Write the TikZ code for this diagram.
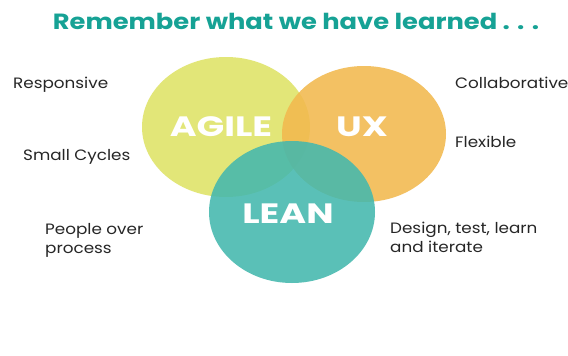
\documentclass[tikz,border=0pt]{standalone}
\usepackage{fontspec}
\setmainfont{Poppins}
\newfontfamily\traitfont[FakeStretch=1.12]{Poppins}
\newfontfamily\headfont[FakeStretch=1.17]{Poppins}
\newfontfamily\namefont[FakeStretch=1.3]{Poppins}
\begin{document}
\begin{tikzpicture}[x=1pt,y=-1pt,
  venn/.style={fill opacity=0.88},
  setname/.style={text=white, font=\namefont\bfseries\fontsize{28}{28}\selectfont, inner sep=0pt},
  trait/.style={text=black!85, font=\traitfont\fontsize{15}{19}\selectfont, inner sep=0pt, anchor=base west, align=left}]
  \useasboundingbox[fill=white] (0,0) rectangle (568,356);
  \definecolor{agilecol}{HTML}{E2E678}
  \definecolor{uxcol}{HTML}{F2B94E}
  \definecolor{leancol}{HTML}{44B8AE}
  \definecolor{titlecol}{HTML}{16A295}
  % title
  \node[text=titlecol, font=\headfont\bfseries\fontsize{22}{24}\selectfont, inner sep=0pt] (title) at (296,21) {Remember what we have learned . . .};
  % the three sets
  \fill[agilecol] (226,127) ellipse [x radius=84, y radius=70];
  \fill[uxcol, venn] (364,134) ellipse [x radius=82, y radius=68];
  \fill[leancol, venn] (292,212) ellipse [x radius=83, y radius=71];
  \node[setname] (agile) at (221,127) {AGILE};
  \node[setname] (ux) at (362,127) {UX};
  \node[setname] (lean) at (288,214) {LEAN};
  % traits (multi-line nodes sit on their last baseline)
  \node[trait] (resp) at (13,88) {Responsive};
  \node[trait] (cyc) at (23,160) {Small Cycles};
  \node[trait] (ppl) at (45,253) {People over\\process};
  \node[trait] (coll) at (455,88) {Collaborative};
  \node[trait] (flex) at (455,147) {Flexible};
  \node[trait] (iter) at (390,252) {Design, test, learn\\and iterate};
\end{tikzpicture}
\end{document}
